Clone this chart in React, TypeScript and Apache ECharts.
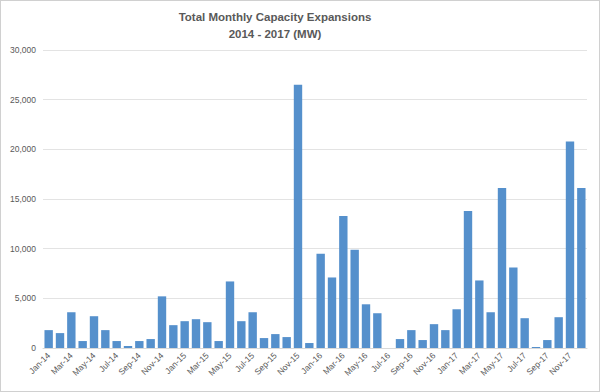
import React, { useEffect, useRef } from "react";
import * as echarts from "echarts";

const months = ["Jan", "Feb", "Mar", "Apr", "May", "Jun", "Jul", "Aug", "Sep", "Oct", "Nov", "Dec"];
const years = ["14", "15", "16", "17"];
const categories: string[] = years.flatMap((y) => months.map((m) => `${m}-${y}`));

const capacity2014 = [1800, 1500, 3600, 700, 3200, 1800, 700, 200, 700, 900, 5200, 2300];
const capacity2015 = [2700, 2900, 2600, 700, 6700, 2700, 3600, 1000, 1400, 1100, 26500, 500];
const capacity2016 = [9500, 7100, 13300, 9900, 4400, 3500, 0, 900, 1800, 800, 2400, 1800];
const capacity2017 = [3900, 13800, 6800, 3600, 16100, 8100, 3000, 100, 800, 3100, 20800, 16100];
const values = [...capacity2014, ...capacity2015, ...capacity2016, ...capacity2017];

const titleText = "Total Monthly Capacity Expansions";
const subtitleText = "2014 - 2017 (MW)";

export default function App() {
  const ref = useRef<HTMLDivElement>(null);
  useEffect(() => {
    if (!ref.current) return;
    const chart = echarts.init(ref.current, undefined, { renderer: "svg" });
    chart.setOption({
      animation: false,
      backgroundColor: "#ffffff",
      title: {
        text: titleText + "\n" + subtitleText,
        left: 269,
        top: 2,
        textAlign: "center",
        textStyle: {
          fontFamily: "Liberation Sans",
          fontSize: 11.5,
          fontWeight: "bold",
          color: "#595959",
          lineHeight: 17,
        },
      },
      grid: { left: 42, right: 12, top: 49, bottom: 43, containLabel: false },
      xAxis: {
        type: "category",
        data: categories,
        axisLine: { lineStyle: { color: "#d9d9d9" } },
        axisTick: { show: false },
        axisLabel: {
          interval: 1,
          rotate: 45,
          fontSize: 8.5,
          color: "#595959",
          fontFamily: "Liberation Sans",
          margin: 6,
        },
      },
      yAxis: {
        type: "value",
        min: 0,
        max: 30000,
        interval: 5000,
        axisLine: { show: false },
        axisTick: { show: false },
        splitLine: { lineStyle: { color: "#e3e3e3" } },
        axisLabel: {
          fontSize: 8.5,
          color: "#595959",
          fontFamily: "Liberation Sans",
          margin: 7,
          formatter: (v: number) => v.toLocaleString("en-US"),
        },
      },
      series: [
        {
          type: "bar",
          data: values,
          barCategoryGap: "26%",
          itemStyle: { color: "#5590cc" },
        },
      ],
    });
    return () => chart.dispose();
  }, []);
  return (
    <div
      ref={ref}
      style={{ width: 600, height: 392, position: "fixed", left: 0, top: 0, boxSizing: "border-box", border: "1px solid #d0d0d0" }}
    />
  );
}
